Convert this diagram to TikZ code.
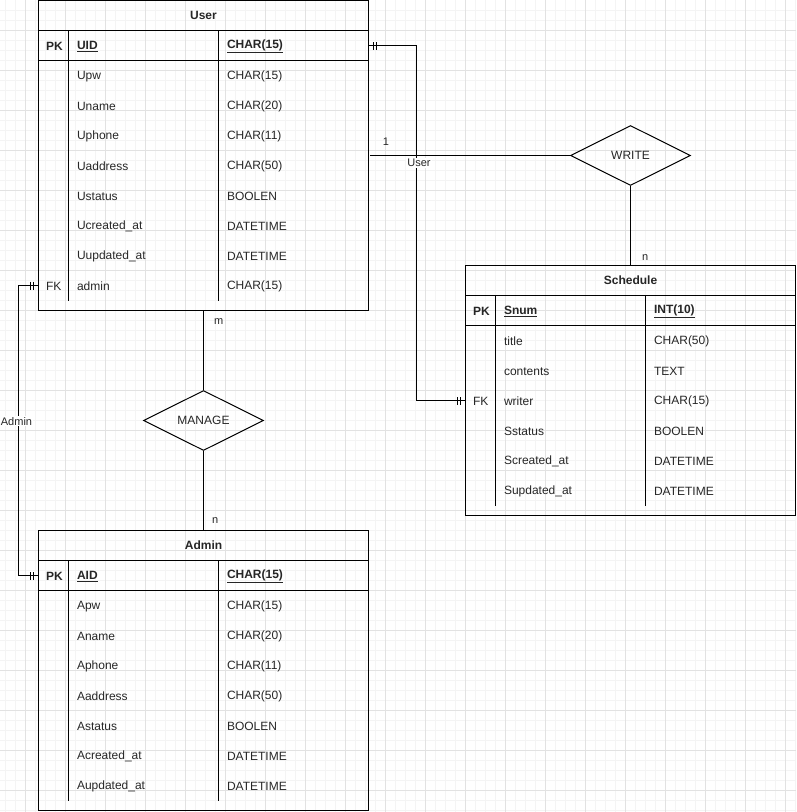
\documentclass[tikz,border=0pt]{standalone}
\usepackage{fontspec}
\setmainfont{Liberation Sans}
\usetikzlibrary{positioning,shapes.geometric,decorations.markings}
\definecolor{gridmajor}{HTML}{E2E2E2}
\definecolor{gridminor}{HTML}{F4F4F4}
\definecolor{inktext}{HTML}{262626}

\begin{document}
\begin{tikzpicture}[x=1pt,y=-1pt,line width=1pt,
  every node/.style={text=inktext,font=\fontsize{12}{14}\selectfont},
  entity/.style={draw,minimum width=330pt,minimum height=30pt,inner sep=0pt,outer sep=0pt,
    font=\fontsize{12}{14}\selectfont\bfseries},
  key row/.style={draw,minimum width=330pt,minimum height=30pt,inner sep=0pt,outer sep=0pt},
  table body/.style={draw,minimum width=330pt,inner sep=0pt,outer sep=0pt},
  field row/.style={minimum width=330pt,minimum height=30pt,inner sep=0pt,outer sep=0pt},
  field/.style={anchor=west,inner sep=0pt,yshift=-1pt},
  key field/.style={field,font=\fontsize{12}{14}\selectfont\bfseries},
  relation/.style={diamond,draw,aspect=2,minimum width=120pt,minimum height=60pt,inner sep=0pt},
  card/.style={inner sep=1pt,font=\fontsize{11}{13}\selectfont},
  one to one/.style={postaction={decorate,decoration={markings,
    mark=at position 5pt with {\draw (0pt,-4pt) -- (0pt,4pt);},
    mark=at position 8pt with {\draw (0pt,-4pt) -- (0pt,4pt);},
    mark=at position -5pt with {\draw (0pt,-4pt) -- (0pt,4pt);},
    mark=at position -8pt with {\draw (0pt,-4pt) -- (0pt,4pt);}}}}]

  \useasboundingbox (0,0) rectangle (796,812);

  % grid
  \foreach \gx in {5,15,...,795} \draw[gridminor] (\gx,0) -- (\gx,812);
  \foreach \gy in {10,20,...,810} \draw[gridminor] (0,\gy) -- (796,\gy);
  \foreach \gx in {25,65,...,785} \draw[gridmajor] (\gx,0) -- (\gx,812);
  \foreach \gy in {30,70,...,790} \draw[gridmajor] (0,\gy) -- (796,\gy);

  % User
  \node[entity] (user) at (203.5,15.5) {User};
  \node[key row,below=0pt of user] (user pk) {};
  \node[table body,minimum height=250pt,below=0pt of user pk] (user body) {};
  \foreach \dx in {30,180}
    \draw ([xshift=\dx]user pk.north west) -- ([xshift=\dx,yshift=10]user body.south west);
  \node[key field,right=7pt of user pk.west] {PK};
  \node[key field,right=38pt of user pk.west] {\underline{UID}};
  \node[key field,right=188pt of user pk.west] {\underline{CHAR(15)}};
  \foreach \fname/\ftype [count=\i] in {Upw/CHAR(15),Uname/CHAR(20),Uphone/CHAR(11),
      Uaddress/CHAR(50),Ustatus/BOOLEN,Ucreated\_at/DATETIME,Uupdated\_at/DATETIME,admin/CHAR(15)} {
    \node[field row] (user \i) at (203.5,{45.5+30*\i}) {};
    \node[field,right=38pt of user \i.west] {\fname};
    \node[field,right=188pt of user \i.west] {\ftype};
  }
  \node[field,right=7pt of user 8.west] {FK};

  % Schedule
  \node[entity] (sched) at (630.5,280.5) {Schedule};
  \node[key row,below=0pt of sched] (sched pk) {};
  \node[table body,minimum height=190pt,below=0pt of sched pk] (sched body) {};
  \foreach \dx in {30,180}
    \draw ([xshift=\dx]sched pk.north west) -- ([xshift=\dx,yshift=10]sched body.south west);
  \node[key field,right=7pt of sched pk.west] {PK};
  \node[key field,right=38pt of sched pk.west] {\underline{Snum}};
  \node[key field,right=188pt of sched pk.west] {\underline{INT(10)}};
  \foreach \fname/\ftype [count=\i] in {title/CHAR(50),contents/TEXT,writer/CHAR(15),
      Sstatus/BOOLEN,Screated\_at/DATETIME,Supdated\_at/DATETIME} {
    \node[field row] (sched \i) at (630.5,{310.5+30*\i}) {};
    \node[field,right=38pt of sched \i.west] {\fname};
    \node[field,right=188pt of sched \i.west] {\ftype};
  }
  \node[field,right=7pt of sched 3.west] {FK};

  % Admin
  \node[entity] (admin) at (203.5,545.5) {Admin};
  \node[key row,below=0pt of admin] (admin pk) {};
  \node[table body,minimum height=220pt,below=0pt of admin pk] (admin body) {};
  \foreach \dx in {30,180}
    \draw ([xshift=\dx]admin pk.north west) -- ([xshift=\dx,yshift=10]admin body.south west);
  \node[key field,right=7pt of admin pk.west] {PK};
  \node[key field,right=38pt of admin pk.west] {\underline{AID}};
  \node[key field,right=188pt of admin pk.west] {\underline{CHAR(15)}};
  \foreach \fname/\ftype [count=\i] in {Apw/CHAR(15),Aname/CHAR(20),Aphone/CHAR(11),
      Aaddress/CHAR(50),Astatus/BOOLEN,Acreated\_at/DATETIME,Aupdated\_at/DATETIME} {
    \node[field row] (admin \i) at (203.5,{575.5+30*\i}) {};
    \node[field,right=38pt of admin \i.west] {\fname};
    \node[field,right=188pt of admin \i.west] {\ftype};
  }

  % relationships
  \node[relation] (write) at (630.5,155.5) {WRITE};
  \node[relation] (manage) at (203.5,420.5) {MANAGE};

  \draw[one to one] (user pk.east) -| ([xshift=-49]sched 3.west) -- (sched 3.west);
  \draw[one to one] (user 8.west) -| node[card,pos=0.734,xshift=-2pt,fill=white] {Admin}
    ([xshift=-20]admin pk.west) -- (admin pk.west);

  \coordinate (user side) at (370,155.5);
  \draw (user side) -- node[card,pos=0.08,above=9pt] {1}
    node[card,pos=0.245,below=2pt,fill=white] {User} (write);
  \draw (write) -- node[card,pos=0.9,right=10pt] {n} (sched);
  \draw (user body) -- node[card,pos=0.14,right=9pt] {m} (manage);
  \draw (manage) -- node[card,pos=0.875,right=7pt] {n} (admin);
\end{tikzpicture}
\end{document}
